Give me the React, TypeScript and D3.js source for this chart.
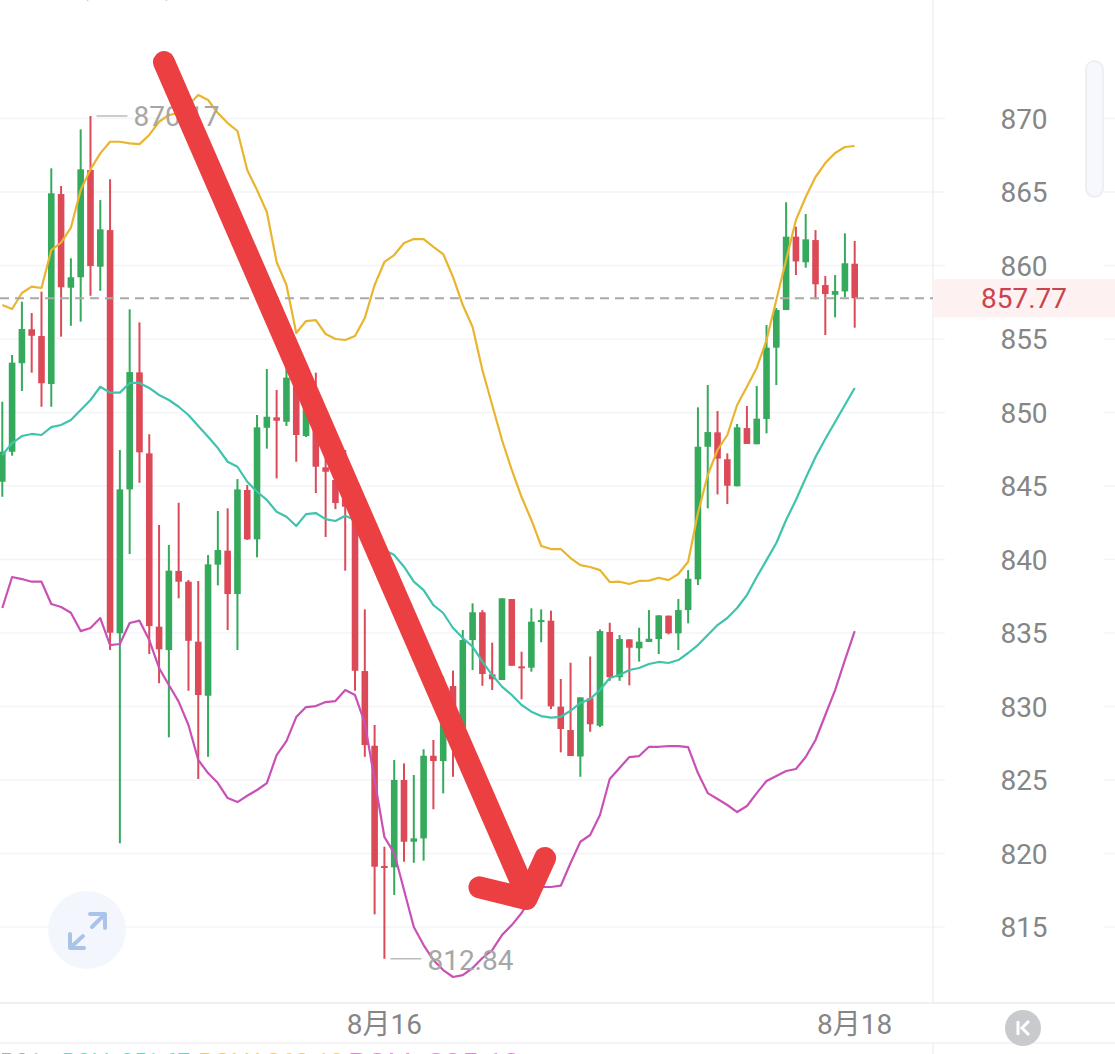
import React from "react";
import * as d3 from "d3";

const WIDTH = 1115;
const HEIGHT = 1054;

// candles, oldest first; the left edge of the picture cuts the series
const opens = [
  845.29, 847.33, 853.35, 855.66, 855.2, 851.94, 864.86, 858.49, 859.2, 866.5, 859.92,
  862.41, 834.98, 844.77, 852.73, 847.22, 835.43, 833.84, 839.22, 838.49, 834.41, 830.73,
  839.65, 840.6, 837.65, 844.73, 841.37, 848.96, 849.67, 849.37, 851.75, 848.4, 849.49,
  846.27, 845.41, 844.25, 843.37, 832.41, 827.33, 819.15, 819.06, 825.0, 820.8, 821.03,
  826.65, 826.29, 831.39, 828.06, 834.52, 836.41, 832.19, 831.8, 837.31, 832.73, 832.64,
  835.79, 835.84, 829.99, 828.4, 826.6, 830.56, 828.69, 835.07, 831.99, 834.57, 833.96,
  834.39, 834.59, 836.18, 834.98, 836.56, 838.65, 847.67, 848.65, 846.82, 844.98, 848.94,
  847.84, 849.56, 854.41, 856.97, 861.96, 860.22, 861.73, 858.67, 858.01, 858.24, 860.12,
];
const highs = [
  850.73, 853.91, 857.54, 856.77, 858.22, 866.61, 865.41, 860.49, 869.26, 870.17, 864.45,
  865.86, 847.45, 857.02, 856.13, 848.52, 842.35, 840.99, 843.86, 838.6, 838.54, 840.3,
  843.3, 843.48, 845.47, 845.07, 849.83, 852.96, 851.53, 853.03, 852.89, 853.03, 852.71,
  847.79, 846.09, 847.45, 845.63, 836.61, 828.74, 820.46, 826.36, 826.13, 825.34, 827.09,
  827.72, 832.03, 832.44, 835.2, 837.02, 836.56, 834.34, 837.36, 837.31, 833.73, 836.68,
  836.61, 836.52, 831.87, 832.98, 830.62, 833.4, 835.25, 835.7, 834.86, 834.57, 835.36,
  836.56, 836.2, 836.18, 837.31, 839.28, 850.35, 851.87, 850.1, 847.22, 849.22, 850.44,
  851.8, 855.95, 857.11, 864.3, 862.64, 863.5, 862.41, 859.28, 859.35, 862.19, 861.67,
];
const lows = [
  844.27, 847.06, 851.46, 852.71, 850.39, 850.39, 855.16, 855.9, 856.18, 857.94, 858.28,
  833.84, 820.69, 840.37, 845.22, 833.57, 831.58, 827.9, 837.36, 831.07, 825.07, 826.58,
  838.24, 835.2, 833.84, 841.33, 840.15, 847.54, 845.52, 849.08, 846.65, 848.33, 844.52,
  841.53, 843.43, 839.24, 831.07, 826.58, 815.86, 812.84, 817.18, 819.44, 819.37, 819.51,
  823.01, 824.09, 825.22, 828.06, 832.48, 831.41, 831.12, 831.8, 832.77, 830.49, 832.37,
  834.37, 829.83, 826.88, 826.63, 825.22, 828.28, 828.6, 831.75, 831.75, 831.44, 833.05,
  834.39, 833.57, 834.91, 833.84, 835.66, 838.26, 843.48, 844.43, 843.77, 844.98, 847.86,
  847.84, 848.58, 851.87, 856.97, 859.35, 859.85, 857.7, 855.27, 856.47, 857.84, 855.77,
];
const closes = [
  847.33, 853.39, 855.68, 855.22, 851.99, 864.91, 858.52, 859.2, 866.54, 859.96, 862.46,
  835.02, 844.77, 852.75, 847.29, 835.47, 833.89, 839.24, 838.49, 834.47, 830.78, 839.67,
  840.65, 837.65, 844.77, 841.37, 848.99, 849.71, 849.44, 852.37, 848.47, 852.69, 846.31,
  845.97, 843.84, 843.59, 832.43, 827.38, 819.1, 819.06, 825.0, 820.8, 821.03, 826.65,
  826.29, 831.39, 827.94, 834.52, 836.41, 832.21, 831.85, 837.36, 832.77, 832.64, 835.77,
  835.88, 830.01, 828.47, 826.63, 830.62, 828.79, 835.13, 831.99, 834.59, 834.0, 834.41,
  834.61, 836.2, 834.98, 836.56, 838.69, 847.67, 848.67, 846.86, 845.02, 848.99, 847.86,
  849.58, 854.41, 856.97, 861.96, 860.28, 861.78, 858.72, 858.06, 858.26, 860.15, 857.77,
];

// Bollinger bands
const bollUpper = [
  857.31, 857.04, 858.13, 858.56, 858.47, 861.05, 861.55, 862.57, 865.13, 866.54, 867.63,
  868.42, 868.42, 868.31, 868.26, 868.88, 869.78, 870.24, 870.37, 870.92, 871.6, 871.26,
  870.37, 869.69, 869.15, 866.5, 865.13, 863.64, 860.24, 858.67, 855.41, 856.22, 856.29,
  855.34, 855.0, 854.93, 855.2, 856.43, 858.67, 860.24, 860.71, 861.53, 861.8, 861.8,
  861.26, 860.78, 859.22, 857.31, 855.82, 852.89, 850.51, 848.13, 846.09, 844.25, 842.69,
  840.92, 840.71, 840.71, 840.1, 839.62, 839.49, 839.28, 838.47, 838.49, 838.33, 838.54,
  838.56, 838.76, 838.6, 839.01, 839.85, 843.16, 845.75, 847.45, 848.47, 850.51, 851.75,
  853.03, 854.93, 857.65, 860.37, 863.09, 864.66, 866.02, 866.97, 867.65, 868.06, 868.13,
];
const bollMid = [
  847.11, 847.92, 848.4, 848.54, 848.47, 849.01, 849.15, 849.49, 850.17, 850.85, 851.75,
  851.35, 851.35, 852.01, 852.01, 851.67, 851.19, 850.85, 850.39, 849.83, 849.08, 848.35,
  847.58, 846.65, 846.31, 845.29, 844.61, 844.05, 843.25, 842.91, 842.28, 843.09, 843.16,
  842.75, 842.62, 842.98, 842.69, 842.01, 841.12, 840.65, 840.3, 839.51, 838.49, 837.92,
  836.9, 836.36, 835.34, 834.66, 834.07, 833.05, 832.14, 831.35, 830.78, 830.1, 829.65,
  829.35, 829.24, 829.3, 829.71, 830.24, 830.51, 831.12, 831.94, 832.14, 832.48, 832.62,
  832.89, 833.03, 832.96, 833.16, 833.64, 834.18, 834.86, 835.54, 836.02, 836.7, 837.58,
  838.81, 839.96, 841.12, 842.69, 844.05, 845.54, 846.97, 848.2, 849.35, 850.51, 851.67,
];
const bollLower = [
  836.7, 838.81, 838.67, 838.49, 838.49, 836.97, 836.77, 836.38, 835.13, 835.34, 836.02,
  834.18, 834.25, 835.68, 835.84, 834.52, 832.62, 831.46, 830.33, 828.74, 826.36, 825.47,
  824.79, 823.77, 823.5, 823.93, 824.32, 824.79, 826.7, 827.65, 829.28, 829.96, 830.03,
  830.3, 830.37, 831.12, 830.78, 828.88, 825.0, 821.12, 820.03, 817.52, 815.0, 813.77,
  812.75, 812.07, 811.6, 811.73, 812.21, 812.89, 813.43, 814.45, 815.13, 815.95, 817.04,
  817.72, 817.72, 817.81, 819.35, 820.8, 821.26, 822.62, 825.07, 825.82, 826.56, 826.63,
  827.26, 827.26, 827.31, 827.31, 827.24, 825.47, 824.11, 823.71, 823.3, 822.82, 823.23,
  824.11, 824.93, 825.27, 825.61, 825.75, 826.56, 827.72, 829.42, 831.12, 833.16, 835.13,
];

const priceTicks = [870, 865, 860, 855, 850, 845, 840, 835, 830, 825, 820, 815];
const dateLabels = [
  { index: 39, label: "8月16" },
  { index: 87, label: "8月18" },
];
const lastPrice = 857.77;
const highMark = { index: 9, price: 870.17 };
const lowMark = { index: 39, price: 812.84 };

// the hand drawn arrow, as [candle index, price]
const arrowShaft: [number, number][] = [[16.5, 873.84], [53.5, 817.2]];
const arrowHead: [number, number][] = [[48.7, 817.7], [53.5, 816.9], [55.4, 819.7]];

const GREEN = "#35a95c";
const RED = "#dc4a58";
const GRID = "#f3f4f6";
const LABEL = "#868686";
const FONT = "Roboto, 'Noto Sans CJK SC', sans-serif";

export default function App() {
  const x = d3.scaleLinear().domain([0, 87]).range([2.3, 854.7]);
  const y = d3.scaleLinear().domain([870, 815]).range([118.5, 927]);

  const bandLine = d3
    .line<number>()
    .x((_, i) => x(i))
    .y((d) => y(d));
  const arrowLine = d3
    .line<[number, number]>()
    .x((d) => x(d[0]))
    .y((d) => y(d[1]));

  const bands = [
    { values: bollUpper, color: "#e8b52e" },
    { values: bollMid, color: "#3fc3ad" },
    { values: bollLower, color: "#c951b5" },
  ];

  return (
    <div style={{ position: "fixed", left: 0, top: 0, width: WIDTH, height: HEIGHT, background: "#fff" }}>
      <svg width={WIDTH} height={HEIGHT} viewBox={`0 0 ${WIDTH} ${HEIGHT}`} style={{ display: "block" }} fontFamily={FONT}>
        {/* grid */}
        {priceTicks.map((t) => (
          <g key={t}>
            <line x1={0} x2={945} y1={y(t)} y2={y(t)} stroke={GRID} strokeWidth={1.5} />
            <line x1={1104} x2={WIDTH} y1={y(t)} y2={y(t)} stroke={GRID} strokeWidth={1.5} />
          </g>
        ))}
        <line x1={933} x2={933} y1={0} y2={1003} stroke="#f0f0f2" strokeWidth={1.5} />
        <line x1={933} x2={933} y1={1043} y2={HEIGHT} stroke="#f0f0f2" strokeWidth={1.5} />
        <line x1={0} x2={WIDTH} y1={1003} y2={1003} stroke="#f0f0f2" strokeWidth={2} />
        <line x1={0} x2={WIDTH} y1={1043} y2={1043} stroke="#f4f4f6" strokeWidth={2} />

        {/* clipped title at the top edge */}
        <text x={80} y={-5} fontSize={26} fill="#aaa">(</text>
        <text x={165} y={-5} fontSize={26} fill="#aaa">)</text>

        {/* expand button */}
        <circle cx={87} cy={930} r={39} fill="#f3f7fd" />
        <g stroke="#a9c4e8" strokeWidth={4} fill="none" strokeLinecap="round" strokeLinejoin="round">
          <path d="M90 914 L105 914 L105 928 M105 914 L92 927" />
          <path d="M70 934 L70 948 L84 948 M70 948 L83 936" />
        </g>

        {/* candles */}
        {opens.map((o, i) => {
          const c = closes[i];
          const color = c >= o ? GREEN : RED;
          const top = y(Math.max(o, c));
          const bottom = y(Math.min(o, c));
          return (
            <g key={i}>
              <line x1={x(i)} x2={x(i)} y1={y(highs[i])} y2={y(lows[i])} stroke={color} strokeWidth={2} />
              <rect x={x(i) - 3.3} width={6.6} y={top} height={Math.max(bottom - top, 2)} fill={color} />
            </g>
          );
        })}

        {/* bollinger bands */}
        {bands.map((b) => (
          <path key={b.color} d={bandLine(b.values) ?? ""} fill="none" stroke={b.color} strokeWidth={2.2} strokeLinejoin="round" />
        ))}

        {/* last price */}
        <line x1={0} x2={933} y1={y(lastPrice)} y2={y(lastPrice)} stroke="#a9a9a9" strokeWidth={2} strokeDasharray="9 6" />
        <rect x={934} y={y(lastPrice) - 19} width={181} height={38} fill="#fdf1f1" />
        <text x={1024} y={y(lastPrice) + 10} textAnchor="middle" fontSize={28} fill="#c9444f">
          {lastPrice.toFixed(2)}
        </text>

        {/* high / low marks */}
        <line x1={x(highMark.index) + 6} x2={x(highMark.index) + 37} y1={y(highMark.price)} y2={y(highMark.price)} stroke="#bbb" strokeWidth={1.5} />
        <text x={x(highMark.index) + 43} y={y(highMark.price) + 10} fontSize={28} fill="#a6a6a6">
          {highMark.price.toFixed(2)}
        </text>
        <line x1={x(lowMark.index) + 6} x2={x(lowMark.index) + 37} y1={y(lowMark.price)} y2={y(lowMark.price)} stroke="#bbb" strokeWidth={1.5} />
        <text x={x(lowMark.index) + 43} y={y(lowMark.price) + 11} fontSize={28} fill="#a6a6a6">
          {lowMark.price.toFixed(2)}
        </text>

        {/* axis labels */}
        {priceTicks.map((t) => (
          <text key={t} x={1024} y={y(t) + 10} textAnchor="middle" fontSize={28} fill={LABEL}>
            {t}
          </text>
        ))}
        {dateLabels.map((d) => (
          <text key={d.label} x={x(d.index)} y={1034} textAnchor="middle" fontSize={28} fill={LABEL}>
            {d.label}
          </text>
        ))}

        {/* scroll handle */}
        <rect x={1086} y={61} width={17} height={136} rx={8.5} fill="#f7f8fd" stroke="#eeeff2" strokeWidth={2} />

        {/* collapse button */}
        <circle cx={1023} cy={1028} r={18} fill="#c9cacd" />
        <path d="M1018 1021 L1018 1035 M1029 1021 L1022 1028 L1029 1035" fill="none" stroke="#fff" strokeWidth={3} />

        {/* legend, mostly below the edge of the picture */}
        <text x={0} y={1070} fontSize={24} fill="#aaa">B01</text>
        <text x={62} y={1070} fontSize={24} fill="#6fd0c0" textLength={128} lengthAdjust="spacingAndGlyphs">BOLL 851.67</text>
        <text x={198} y={1070} fontSize={24} fill="#eccb70" textLength={146} lengthAdjust="spacingAndGlyphs">BOLU 868.13</text>
        <text x={348} y={1070} fontSize={24} fill="#d78fca" textLength={172} lengthAdjust="spacingAndGlyphs">BOLL 835.13</text>

        {/* arrow */}
        <g fill="none" stroke="#ec3f41" strokeWidth={22} strokeLinecap="round" strokeLinejoin="round">
          <path d={arrowLine(arrowShaft) ?? ""} />
          <path d={arrowLine(arrowHead) ?? ""} />
        </g>
      </svg>
    </div>
  );
}
